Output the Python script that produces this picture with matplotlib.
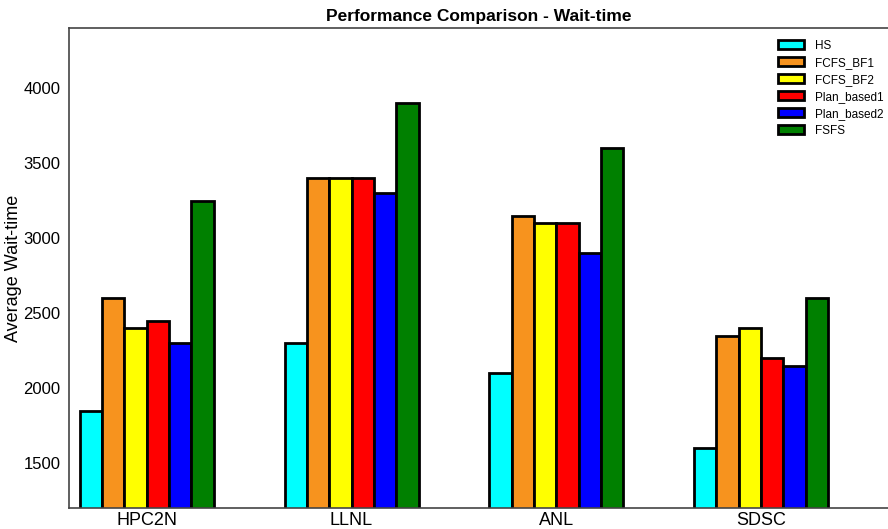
import matplotlib
matplotlib.use('Agg')
import matplotlib.pyplot as plt
import numpy as np

plt.rcParams['font.family'] = ['Liberation Sans', 'DejaVu Sans']

# Data
sites = ['HPC2N', 'LLNL', 'ANL', 'SDSC']
series = ['HS', 'FCFS_BF1', 'FCFS_BF2', 'Plan_based1', 'Plan_based2', 'FSFS']
hs = [1850, 2300, 2100, 1600]
fcfs_bf1 = [2600, 3400, 3150, 2350]
fcfs_bf2 = [2400, 3400, 3100, 2400]
plan_based1 = [2450, 3400, 3100, 2200]
plan_based2 = [2300, 3300, 2900, 2150]
fsfs = [3250, 3900, 3600, 2600]
colors = ['#00FFFF', '#F7931E', '#FFFF00', '#FF0000', '#0000FF', '#008000']

values = [hs, fcfs_bf1, fcfs_bf2, plan_based1, plan_based2, fsfs]

fig = plt.figure(figsize=(8.88, 5.29), dpi=100)
ax = fig.add_axes([0.0777, 0.0397, 0.9223, 0.9073])

x = np.arange(len(sites))
w = 0.109
for i, (name, vals) in enumerate(zip(series, values)):
    ax.bar(x + (i - 2.5) * w, vals, w, color=colors[i], edgecolor='black',
           linewidth=2, label=name, zorder=2)

ax.set_ylim(1200, 4400)
ax.set_xlim(-0.38, 3.62)
ax.set_xticks(x)
ax.set_xticklabels(sites, fontsize=13)
ax.set_yticks([1500, 2000, 2500, 3000, 3500, 4000])
ax.tick_params(axis='y', labelsize=12, length=0, pad=6)
ax.tick_params(axis='x', length=0, pad=3)
ax.set_ylabel('Average Wait-time', fontsize=13)
ax.yaxis.set_label_coords(-0.057, 0.5)
ax.set_title('Performance Comparison - Wait-time', fontsize=12.5, fontweight='bold', pad=5)

for s in ax.spines.values():
    s.set_color('#444444')
    s.set_linewidth(1.2)
ax.spines['right'].set_visible(False)

ax.legend(loc='upper left', frameon=False, fontsize=8.5, handlelength=2.2,
          handleheight=0.8, handletextpad=0.9, labelspacing=0.42,
          borderaxespad=0.0, borderpad=0.0, bbox_to_anchor=(0.866, 0.975))

fig.savefig('out.png', dpi=100)
